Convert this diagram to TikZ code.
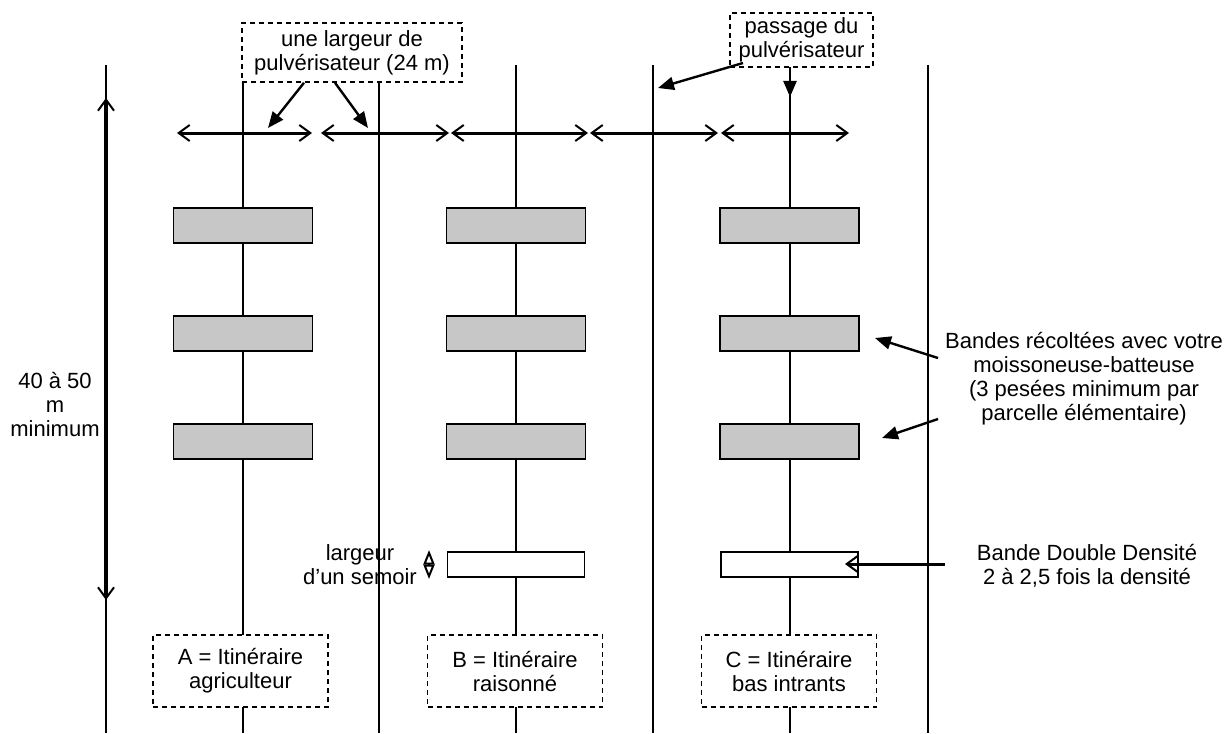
\documentclass[tikz,border=0pt]{standalone}
\usepackage{fontspec}
\setmainfont{Liberation Sans}
\usetikzlibrary{arrows.meta}

\begin{document}
\begin{tikzpicture}[x=1pt,y=-1pt,>={Straight Barb[length=11pt,width=16pt,line width=2pt]},
    txt/.style={align=center,inner sep=0pt,font=\fontsize{22}{24}\selectfont},
    note/.style={txt,draw,dashed,dash pattern=on 5pt off 4pt,fill=white,line width=1.5pt},
    field/.style={line width=2.3pt},
    band/.style={draw,line width=1.8pt,fill=black!22,minimum width=139pt,minimum height=35pt,inner sep=0pt},
    dd/.style={draw,line width=1.6pt,fill=white,minimum width=137pt,minimum height=25pt,inner sep=0pt},
    pointer/.style={-{Triangle[length=16pt,width=13pt]},line width=2.4pt},
    span/.style={<->,line width=3pt}]

    \useasboundingbox (0,0) rectangle (1230,733);

    % field lines
    \foreach \x [count=\i] in {106,243,379,516,653,790,928}
        \draw[field] (\x,65) coordinate (t\i) -- (\x,733) coordinate (b\i);

    % sprayer widths
    \foreach \a/\b [count=\i] in {177/312,321/449,451/588,590/718,721/849}{
        \coordinate (l\i) at (\a,133);
        \coordinate (r\i) at (\b,133);
        \draw[span] (l\i) -- (r\i);
    }

    % harvested bands
    \foreach \x [count=\c] in {243,516,789.5}
        \foreach \y [count=\r] in {225.5,333.5,441.5}
            \node[band] (band\c\r) at (\x,\y) {};

    % double density bands
    \node[dd] (ddB) at (516,564.5) {};
    \node[dd] (ddC) at (789.5,564.5) {};

    % boxes
    \node[note,minimum width=220pt,minimum height=59pt] (spray) at (352,52.5) {une largeur de\\pulvérisateur (24 m)};
    \node[note,minimum width=143pt,minimum height=54pt] (pass) at (801.5,40) {passage du\\pulvérisateur};
    \node[note,minimum width=175pt,minimum height=72pt] (itinA) at (240.5,671) {A = Itinéraire\\agriculteur};
    \node[note,minimum width=175pt,minimum height=72pt] (itinB) at (515,671) {B = Itinéraire\\raisonné};
    \node[note,minimum width=175pt,minimum height=72pt] (itinC) at (789,671) {C = Itinéraire\\bas intrants};

    \node[txt] (len) at (55,405) {40 à 50\\m\\minimum};
    \node[txt] (semoir) at (360,565) {largeur\\d'un semoir};
    \node[txt] (harv) at (1084,379) {Bandes récoltées avec votre\\moissoneuse-batteuse\\(3 pesées minimum par\\parcelle élémentaire)};
    \node[txt] (dens) at (1087,566) {Bande Double Densité\\2 à 2,5 fois la densité};

    % arrows
    \coordinate (s1) at (268,128);
    \coordinate (s2) at (368,128);
    \draw[pointer] ([xshift=-48pt]spray.south) -- (s1);
    \draw[pointer] ([xshift=-17pt]spray.south) -- (s2);

    \coordinate (p1) at (658,88);
    \coordinate (p2) at (790,97);
    \draw[pointer] (743,63) -- (p1);
    \draw[pointer] ([xshift=-11.5pt]pass.south) -- (p2);

    \coordinate (h1) at (875,338);
    \coordinate (h2) at (882,438);
    \draw[pointer] (938,358) -- (h1);
    \draw[pointer] (938,419) -- (h2);

    \coordinate (d1) at (945,564);
    \draw[->,line width=3pt] (d1) -- (845,564);

    \coordinate (w1) at (429,550);
    \coordinate (w2) at (429,579);
    \draw[{Triangle[open,length=14.5pt,width=11pt]}-{Triangle[open,length=14.5pt,width=11pt]},line width=2pt] (w1) -- (w2);

    \coordinate (m1) at (106,98);
    \coordinate (m2) at (106,600);
    \draw[span,line width=3.5pt] (m1) -- (m2);

\end{tikzpicture}
\end{document}
